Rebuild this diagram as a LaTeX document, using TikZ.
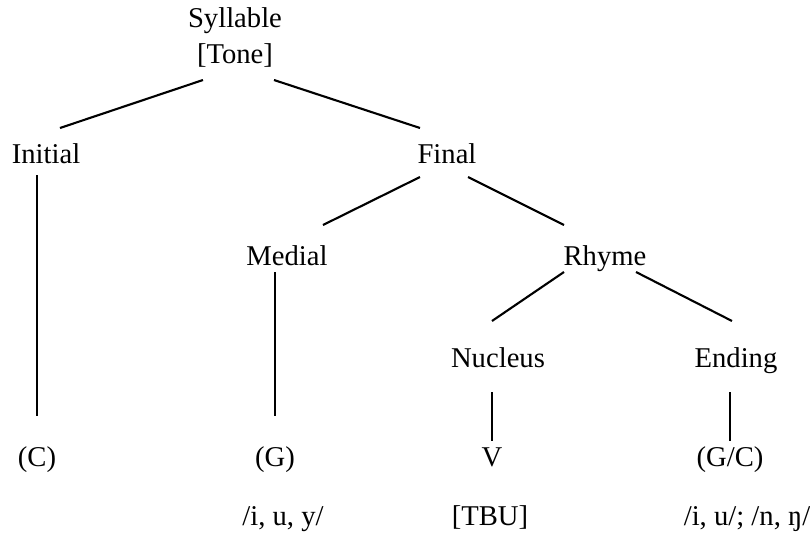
\documentclass[tikz,border=0pt]{standalone}
\usepackage{fontspec}
\setmainfont{Liberation Serif}
\usetikzlibrary{calc}
\tikzset{
  lbl/.style={inner sep=0pt, anchor=base, font=\fontsize{8.15}{9.96}\selectfont},
  branch/.style={line width=0.6pt}
}
\begin{document}
\begin{tikzpicture}
	\useasboundingbox (0, 0) rectangle (8.1, 5.33);
	
	% tree nodes
	\node[lbl, align=center] (syl) at (2.35, 4.70) {Syllable\\{[Tone]}};
	\node[lbl] (ini) at (0.46, 3.70) {Initial};
	\node[lbl] (fin) at (4.47, 3.70) {Final};
	\node[lbl] (med) at (2.87, 2.68) {Medial};
	\node[lbl] (rhy) at (6.05, 2.68) {Rhyme};
	\node[lbl] (nuc) at (4.98, 1.66) {Nucleus};
	\node[lbl] (end) at (7.36, 1.66) {Ending};
	
	\node[lbl] (cons) at (0.37, 0.67) {(C)};
	\node[lbl] (glide) at (2.75, 0.67) {(G)};
	\node[lbl] (vow) at (4.92, 0.67) {V};
	\node[lbl] (coda) at (7.30, 0.67) {(G/C)};
	
	\node[lbl] (glideset) at (2.83, 0.08) {/i, u, y/};
	\node[lbl] (tbu) at (4.90, 0.08) {[TBU]};
	\node[lbl] (codaset) at (7.47, 0.08) {/i, u/; /n, ŋ/};
	
	% branches
	\draw[branch] ($(syl.base) + (-0.32, -0.17)$) -- ($(ini.base) + (0.14, 0.35)$);
	\draw[branch] ($(syl.base) + (0.39, -0.17)$) -- ($(fin.base) + (-0.27, 0.35)$);
	\draw[branch] ($(fin.base) + (-0.27, -0.14)$) -- ($(med.base) + (0.36, 0.40)$);
	\draw[branch] ($(fin.base) + (0.21, -0.14)$) -- ($(rhy.base) + (-0.41, 0.40)$);
	\draw[branch] ($(rhy.base) + (-0.41, -0.07)$) -- ($(nuc.base) + (-0.06, 0.46)$);
	\draw[branch] ($(rhy.base) + (0.31, -0.07)$) -- ($(end.base) + (-0.04, 0.46)$);
	
	\draw[branch] ($(cons.base |- ini.base) + (0, -0.12)$) -- ($(cons.base) + (0, 0.50)$);
	\draw[branch] ($(glide.base |- med.base) + (0, -0.07)$) -- ($(glide.base) + (0, 0.50)$);
	\draw[branch] ($(vow.base |- nuc.base) + (0, -0.25)$) -- ($(vow.base) + (0, 0.25)$);
	\draw[branch] ($(coda.base |- end.base) + (0, -0.25)$) -- ($(coda.base) + (0, 0.25)$);
\end{tikzpicture}
\end{document}
